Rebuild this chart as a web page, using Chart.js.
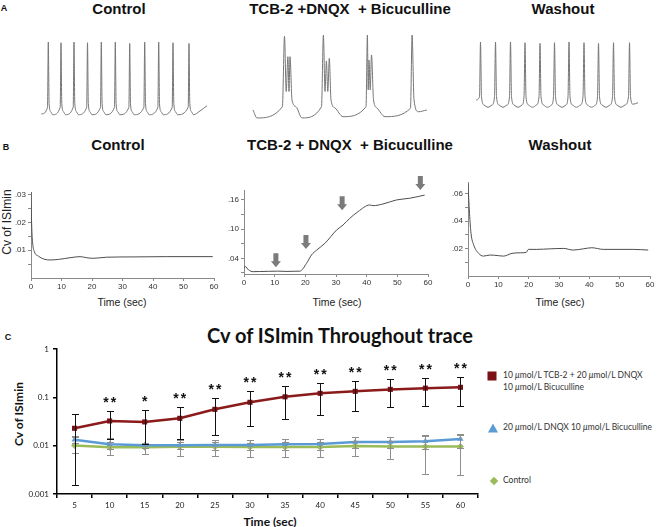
<!DOCTYPE html>
<html>
<head>
<meta charset="utf-8">
<script src="https://cdn.jsdelivr.net/npm/chart.js@4.4.0/dist/chart.umd.min.js"></script>
<style>
  body { margin: 0; background: #fff; width: 658px; height: 527px; overflow: hidden; position: relative; font-family: 'Liberation Sans', Arial, sans-serif; }
  canvas { position: absolute; }
  .t { position: absolute; transform: translate(-50%, -50%); white-space: nowrap; color: #111; }
  .head { font-weight: bold; font-size: 15px; }
  .letter { font-weight: bold; font-size: 9px; }
  .axt { font-size: 10.5px; color: #222; }
  .rot { transform: translate(-50%, -50%) rotate(-90deg); }
  .cal { font-family: Lato, 'Open Sans', sans-serif; }
  .ctitle { font-weight: bold; font-size: 20px; }
  .caxt { font-weight: bold; font-size: 12px; }
  .leg { position: absolute; font-family: Lato, 'Open Sans', sans-serif; font-size: 8.5px; color: #333; line-height: 11.6px; white-space: nowrap; }
  .mk { position: absolute; transform: translate(-50%, -50%); }
</style>
</head>
<body>
<div class="t letter" style="left:4px;top:8px">A</div>
<div class="t head" style="left:119px;top:8px">Control</div>
<div class="t head" style="left:350px;top:8px">TCB-2 +DNQX&nbsp; + Bicuculline</div>
<div class="t head" style="left:563px;top:8px">Washout</div>

<div class="t letter" style="left:6px;top:147px">B</div>
<div class="t head" style="left:118px;top:144px">Control</div>
<div class="t head" style="left:350px;top:144px">TCB-2 + DNQX&nbsp; + Bicuculline</div>
<div class="t head" style="left:560px;top:144px">Washout</div>
<div class="t axt rot" style="left:7px;top:222px;font-size:12px">Cv of ISImin</div>
<div class="t axt" style="left:122px;top:302px">Time (sec)</div>
<div class="t axt" style="left:337px;top:302px">Time (sec)</div>
<div class="t axt" style="left:560px;top:302px">Time (sec)</div>

<div class="t letter" style="left:8px;top:337px">C</div>
<div class="t cal ctitle" style="left:340px;top:335px">Cv of ISImin Throughout trace</div>
<div class="t cal caxt rot" style="left:18px;top:414px">Cv of ISImin</div>
<div class="t cal caxt" style="left:270px;top:521px">Time (sec)</div>

<div class="mk" style="left:492px;top:376px;width:9px;height:9px;background:#7d1015"></div>
<div class="leg" style="left:503px;top:370px">10 <i>μ</i>mol/L TCB-2 + 20 <i>μ</i>mol/L DNQX<br>10 <i>μ</i>mol/L Bicuculline</div>
<div class="mk" style="left:493px;top:428px;width:0;height:0;border-left:5px solid transparent;border-right:5px solid transparent;border-bottom:9px solid #5b9bd5"></div>
<div class="leg" style="left:503px;top:422px">20 <i>μ</i>mol/L DNQX 10 <i>μ</i>mol/L Bicuculline</div>
<div class="mk" style="left:494px;top:481px;width:6px;height:6px;background:#9bbb59;transform:translate(-50%,-50%) rotate(45deg)"></div>
<div class="leg" style="left:503px;top:475px">Control</div>

<script>
// ---- panel A: membrane potential traces (time in ms, potential in mV) ----
const ctrlTraceT = [15, 75, 83, 91, 108, 128, 202, 210, 218, 235, 255, 332, 340, 348, 365, 385,
  467, 475, 483, 500, 520, 605, 613, 621, 638, 658, 745, 753, 761, 778, 798, 889, 897, 905, 922, 942,
  1039, 1047, 1055, 1072, 1092, 1179, 1187, 1195, 1212, 1232, 1322, 1330, 1338, 1355, 1375,
  1482, 1490, 1498, 1515, 1535, 1600, 1670];
const ctrlTraceV = [-66, -57, 30, -52, -63, -67, -57, 29, -52, -63, -67, -57, 30, -52, -63, -67,
  -57, 29, -52, -63, -67, -57, 30, -52, -63, -67, -57, 30, -52, -63, -67, -57, 28, -52, -63, -67,
  -57, 30, -52, -63, -67, -57, 30, -52, -63, -67, -57, 29, -52, -63, -67,
  -57, 28, -52, -63, -67, -62, -55];

const tcbTraceT = [30, 70, 324, 345, 362, 379, 390, 400, 420, 460, 520, 715, 734, 750, 764, 778, 793, 810,
  850, 930, 1160, 1174, 1182, 1190, 1202, 1215, 1235, 1270, 1350, 1605, 1621, 1640, 1684, 1768];
const tcbTraceV = [-60.7, -71.3, -56.3, 37.6, -36, 10.4, -36, 10.4, -47.3, -56.3, -71.3, -56.3, 39.3, -36, 4.7, -36, 8.3, -47.3,
  -58, -69.6, -56.3, 39.3, -34, 6, -34, 12.7, -47.3, -58, -69.6, -58.4, 39.3, -47.3, -63, -60.7];

const washTraceT = [60, 95, 105, 115, 140, 180, 220, 245, 255, 265, 290, 330, 370, 395, 405, 415, 440, 480, 520,
  540, 550, 560, 585, 625, 665, 690, 700, 710, 735, 775, 815, 835, 845, 855, 880, 920, 960,
  980, 990, 1000, 1025, 1065, 1105, 1130, 1140, 1150, 1175, 1215, 1255, 1275, 1285, 1295, 1320, 1360, 1400,
  1425, 1435, 1445, 1470, 1510, 1550, 1585, 1595, 1605, 1630, 1680];
const washTraceV = [-47.3, -43, 30, -43, -54, -57, -54, -43, 30, -43, -54, -57, -54, -43, 30, -43, -54, -57, -54,
  -43, 29, -43, -54, -57, -54, -43, 28, -43, -54, -57, -54, -43, 29, -43, -54, -57, -54,
  -43, 30, -43, -54, -57, -54, -43, 29, -43, -54, -57, -54, -43, 28, -43, -54, -57, -54,
  -43, 29, -43, -54, -57, -54, -43, 29, -43, -53, -51];

// ---- panel B: Cv of ISImin against time (sec) ----
const ctrlCvT = [0, 0.2, 0.55, 1.1, 2.4, 4.6, 6.2, 9, 12.8, 16.1, 18.3, 20.4, 24.8, 33.5, 44.5, 59.6];
const ctrlCvV = [0.0311, 0.0197, 0.0125, 0.0095, 0.0079, 0.0067, 0.0065, 0.0067, 0.0073, 0.0077, 0.0073, 0.0071, 0.0075, 0.0076, 0.0077, 0.0077];
const ctrlCvTicks = [0.005, 0.01, 0.015, 0.02, 0.025, 0.03];
const ctrlCvLabels = ['', '.01', '', '.02', '', '.03'];

const tcbCvT = [0, 0.4, 1.5, 3, 5, 8, 11, 14, 16, 18.2, 20.4, 22, 23.7, 26.4, 30.2, 32.3, 34.5, 37.2, 41, 42.1, 45.3, 49.7, 54, 58.9];
const tcbCvV = [0.019, 0.023, 0.016, 0.0125, 0.0128, 0.0132, 0.0136, 0.013, 0.0133, 0.0135, 0.0297, 0.0468, 0.057, 0.0709,
  0.0982, 0.1085, 0.1223, 0.136, 0.1497, 0.1483, 0.1517, 0.16, 0.1635, 0.17];
const tcbCvTicks = [0.01, 0.04, 0.07, 0.10, 0.13, 0.16];
const tcbCvLabels = ['', '.04', '', '.10', '', '.16'];
const arrowTimes = [10.4, 20.2, 32, 57.5];
const arrowTips = [0.0215, 0.0591, 0.139, 0.1805];

const washCvT = [0, 0.5, 1.0, 1.9, 3.5, 5.1, 7.3, 10.1, 11.7, 14.5, 17.2, 19.2, 19.9, 22.7, 27.1, 31.5, 34.7, 38, 40.8, 44.6, 50.1, 54.5, 59.4];
const washCvV = [0.0673, 0.0455, 0.031, 0.0225, 0.0165, 0.0145, 0.0153, 0.0148, 0.0145, 0.0165, 0.0169, 0.0172, 0.0194, 0.0194,
  0.0198, 0.0201, 0.0189, 0.0198, 0.0206, 0.0194, 0.0194, 0.0194, 0.0189];
const washCvTicks = [0.01, 0.02, 0.03, 0.04, 0.05, 0.06];
const washCvLabels = ['', '.02', '', '.04', '', '.06'];

// ---- panel C: mean Cv of ISImin with error bars ----
const timeLabels = ['5', '10', '15', '20', '25', '30', '35', '40', '45', '50', '55', '60'];
const tcbMean = [0.0229, 0.0324, 0.031, 0.0368, 0.0565, 0.0789, 0.1025, 0.121, 0.133, 0.146, 0.155, 0.161];
const tcbHigh = [0.045, 0.0514, 0.054, 0.062, 0.095, 0.133, 0.171, 0.197, 0.214, 0.24, 0.247, 0.258];
const tcbLow = [0.00155, 0.0135, 0.011, 0.0137, 0.0166, 0.026, 0.0356, 0.0437, 0.0514, 0.0619, 0.065, 0.067];
const dnqxMean = [0.0133, 0.0107, 0.0102, 0.0102, 0.0103, 0.0103, 0.0107, 0.0108, 0.0119, 0.0119, 0.0123, 0.0138];
const dnqxHigh = [0.016, 0.0142, 0.0112, 0.013, 0.0132, 0.013, 0.0135, 0.014, 0.0152, 0.0152, 0.017, 0.0175];
const dnqxLow = [0.0115, 0.0085, 0.009, 0.0085, 0.0082, 0.008, 0.0082, 0.0082, 0.009, 0.009, 0.0085, 0.009];
const ctrlMean = [0.0101, 0.0093, 0.0093, 0.0095, 0.0095, 0.0094, 0.0094, 0.0094, 0.0098, 0.0096, 0.0096, 0.0096];
const ctrlHigh = [0.015, 0.012, 0.0108, 0.0118, 0.012, 0.0112, 0.012, 0.012, 0.0122, 0.0125, 0.0158, 0.0165];
const ctrlLow = [0.007, 0.0064, 0.0067, 0.0062, 0.006, 0.0058, 0.0059, 0.0058, 0.0061, 0.0052, 0.0026, 0.0025];
const sigMarks = ['', '**', '*', '**', '**', '**', '**', '**', '**', '**', '**', '**'];
const logTicks = [0.001, 0.01, 0.1, 1];
const logLabels = ['0.001', '0.01', '0.1', '1'];

Chart.defaults.font.family = "'Liberation Sans', Arial, sans-serif";

function pairs(xs, ys) {
  return xs.map((x, i) => ({ x: x, y: ys[i] }));
}

// canvas placed so that the plot area lands on `area` = [left, top, right, bottom]
function makeCanvas(area, yW, xH, pad) {
  const c = document.createElement('canvas');
  const left = area[0] - yW - pad.left, top = area[1] - pad.top;
  const w = area[2] + pad.right - left, h = area[3] + xH + pad.bottom - top;
  c.width = w; c.height = h;
  c.style.left = left + 'px'; c.style.top = top + 'px';
  c.style.width = w + 'px'; c.style.height = h + 'px';
  document.body.appendChild(c);
  return c;
}

const quiet = { responsive: false, animation: false, events: [] };

// Panel A traces
function traceChart(area, ts, vs, tMax) {
  const c = makeCanvas(area, 0, 0, { left: 0, top: 0, right: 0, bottom: 0 });
  new Chart(c, {
    type: 'line',
    data: { datasets: [{ data: pairs(ts, vs), borderColor: '#767676', borderWidth: 1, pointRadius: 0,
      cubicInterpolationMode: 'monotone', clip: false }] },
    options: Object.assign({}, quiet, {
      layout: { padding: 0 },
      plugins: { legend: { display: false }, tooltip: { enabled: false } },
      scales: {
        x: { type: 'linear', display: false, min: 0, max: tMax },
        y: { display: false, min: -76.7, max: 43.3 }
      }
    })
  });
}

traceChart([40, 32, 210, 122], ctrlTraceT, ctrlTraceV, 1700);
traceChart([250, 32, 430, 122], tcbTraceT, tcbTraceV, 1800);
traceChart([470, 32, 645, 122], washTraceT, washTraceV, 1750);

// Panel B
const arrowPlugin = {
  id: 'arrows',
  afterDatasetsDraw(chart) {
    const { ctx } = chart;
    const x = chart.scales.x, y = chart.scales.y;
    ctx.save();
    ctx.fillStyle = '#7b7b7b';
    arrowTimes.forEach((t, i) => {
      const px = x.getPixelForValue(t), tip = y.getPixelForValue(arrowTips[i]);
      ctx.beginPath();
      ctx.moveTo(px, tip);
      ctx.lineTo(px - 5, tip - 6);
      ctx.lineTo(px - 2.5, tip - 6);
      ctx.lineTo(px - 2.5, tip - 14);
      ctx.lineTo(px + 2.5, tip - 14);
      ctx.lineTo(px + 2.5, tip - 6);
      ctx.lineTo(px + 5, tip - 6);
      ctx.closePath();
      ctx.fill();
    });
    ctx.restore();
  }
};

function cvChart(area, ts, vs, yMin, yMax, yTicks, yLabels, plugins) {
  const c = makeCanvas(area, 26, 14, { left: 2, top: 18, right: 10, bottom: 2 });
  const axisGrid = { display: true, drawOnChartArea: false, drawTicks: true, tickLength: 3, color: '#8a8a8a' };
  new Chart(c, {
    type: 'line',
    data: { datasets: [{ data: pairs(ts, vs), borderColor: '#4d4d4d', borderWidth: 1, pointRadius: 0,
      cubicInterpolationMode: 'monotone' }] },
    plugins: plugins || [],
    options: Object.assign({}, quiet, {
      layout: { padding: { left: 2, top: 18, right: 10, bottom: 2 } },
      plugins: { legend: { display: false }, tooltip: { enabled: false } },
      scales: {
        x: {
          type: 'linear', min: 0, max: 60,
          afterFit: s => { s.height = 14; },
          border: { color: '#8a8a8a', width: 1 },
          grid: axisGrid,
          ticks: { stepSize: 10, padding: 1, color: '#333', maxRotation: 0, font: { size: 8 } }
        },
        y: {
          min: yMin, max: yMax,
          afterFit: s => { s.width = 26; },
          afterBuildTicks: s => { s.ticks = yTicks.map(v => ({ value: v })); },
          border: { color: '#8a8a8a', width: 1 },
          grid: axisGrid,
          ticks: { padding: 2, color: '#333', font: { size: 8 }, callback: (v, i) => yLabels[i] }
        }
      }
    })
  });
}

cvChart([31, 192, 214, 278], ctrlCvT, ctrlCvV, 0, 0.031, ctrlCvTicks, ctrlCvLabels);
cvChart([244, 190, 428, 274], tcbCvT, tcbCvV, 0.0077, 0.1805, tcbCvTicks, tcbCvLabels, [arrowPlugin]);
cvChart([468, 182, 650, 276], washCvT, washCvV, 0, 0.0685, washCvTicks, washCvLabels);

// Panel C
const errorBarPlugin = {
  id: 'errorBars',
  afterDatasetsDraw(chart) {
    const { ctx } = chart;
    const y = chart.scales.y;
    ctx.save();
    ctx.lineWidth = 1;
    for (let di = chart.data.datasets.length - 1; di >= 0; di--) {
      const ds = chart.data.datasets[di];
      ctx.strokeStyle = ds.errColor;
      chart.getDatasetMeta(di).data.forEach((pt, i) => {
        const x = Math.round(pt.x) + 0.5;
        const top = Math.round(y.getPixelForValue(ds.errHigh[i])) + 0.5;
        const bot = Math.round(y.getPixelForValue(ds.errLow[i])) + 0.5;
        ctx.beginPath();
        ctx.moveTo(x, top); ctx.lineTo(x, bot);
        ctx.moveTo(x - 3.5, top); ctx.lineTo(x + 3.5, top);
        ctx.moveTo(x - 3.5, bot); ctx.lineTo(x + 3.5, bot);
        ctx.stroke();
      });
    }
    // significance marks over the TCB-2 series
    ctx.fillStyle = '#111';
    ctx.font = "bold 14px 'Liberation Sans', Arial, sans-serif";
    ctx.textAlign = 'center';
    ctx.textBaseline = 'alphabetic';
    ctx.letterSpacing = '2px';
    chart.getDatasetMeta(0).data.forEach((pt, i) => {
      if (!sigMarks[i]) return;
      const top = y.getPixelForValue(tcbHigh[i]);
      ctx.fillText(sigMarks[i], pt.x + 1, top - 4);
    });
    ctx.restore();
  }
};

const cCanvas = makeCanvas([57, 349, 478, 494], 30, 16, { left: 2, top: 10, right: 12, bottom: 2 });
const cFont = { family: "Lato, 'Open Sans', sans-serif", size: 8 };
new Chart(cCanvas, {
  type: 'line',
  data: {
    labels: timeLabels,
    datasets: [
      { label: '10 μmol/L TCB-2 + 20 μmol/L DNQX 10 μmol/L Bicuculline', data: tcbMean,
        borderColor: '#8b1a1a', backgroundColor: '#7d1015', borderWidth: 2.5,
        pointStyle: 'rect', pointRadius: 3.6, pointBorderWidth: 0,
        errHigh: tcbHigh, errLow: tcbLow, errColor: '#111' },
      { label: '20 μmol/L DNQX 10 μmol/L Bicuculline', data: dnqxMean,
        borderColor: '#5b9bd5', backgroundColor: '#5b9bd5', borderWidth: 2.5,
        pointStyle: 'triangle', pointRadius: 3.5, pointBorderWidth: 0,
        errHigh: dnqxHigh, errLow: dnqxLow, errColor: '#8f8f8f' },
      { label: 'Control', data: ctrlMean,
        borderColor: '#9bbb59', backgroundColor: '#9bbb59', borderWidth: 2.5,
        pointStyle: 'rectRot', pointRadius: 3.5, pointBorderWidth: 0,
        errHigh: ctrlHigh, errLow: ctrlLow, errColor: '#8f8f8f' }
    ]
  },
  plugins: [errorBarPlugin],
  options: Object.assign({}, quiet, {
    layout: { padding: { left: 2, top: 10, right: 12, bottom: 2 } },
    plugins: { legend: { display: false }, tooltip: { enabled: false } },
    scales: {
      x: {
        type: 'category', offset: true,
        afterFit: s => { s.height = 16; },
        border: { color: '#000', width: 1.5 },
        grid: { display: true, drawOnChartArea: false, offset: true, tickLength: 4, color: '#000', lineWidth: 1.5 },
        ticks: { padding: 3, color: '#222', font: cFont, maxRotation: 0 }
      },
      y: {
        type: 'logarithmic', min: 0.001, max: 1,
        afterFit: s => { s.width = 30; },
        afterBuildTicks: s => { s.ticks = logTicks.map(v => ({ value: v })); },
        border: { color: '#000', width: 1.5 },
        grid: { display: true, drawOnChartArea: false, tickLength: 4, color: '#000', lineWidth: 1.5 },
        ticks: { padding: 4, color: '#222', font: cFont, callback: (v, i) => logLabels[i] }
      }
    }
  })
});
</script>
</body>
</html>
